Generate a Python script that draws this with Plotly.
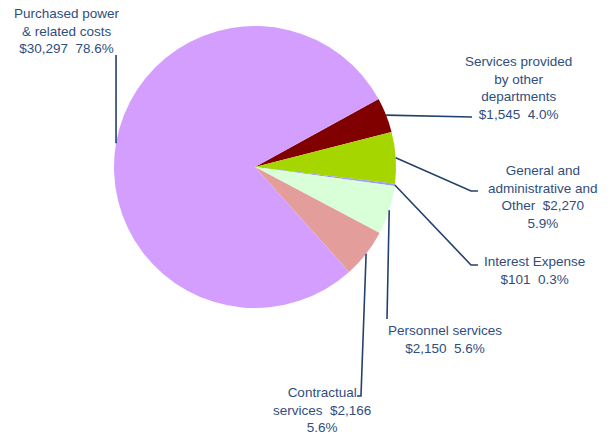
import numpy as np
import plotly.graph_objects as go

W, H = 611, 437

# Cost categories, in the order they are drawn (clockwise)
categories = [
    'Services provided by other departments',
    'General and administrative and Other',
    'Interest Expense',
    'Personnel services',
    'Contractual services',
    'Purchased power & related costs',
]
amounts = [1545, 2270, 101, 2150, 2166, 30297]
percents = [4.0, 5.9, 0.3, 5.6, 5.6, 78.6]
label_text = [
    'Services provided<br>by other<br>departments<br>$1,545  4.0%',
    'General and<br>administrative and<br>Other  $2,270<br>5.9%',
    'Interest Expense<br>$101  0.3%',
    'Personnel services<br>$2,150  5.6%',
    'Contractual<br>services  $2,166<br>5.6%',
    'Purchased power<br>& related costs<br>$30,297  78.6%',
]
slice_colors = ['#800000', '#A6D600', '#9999FF', '#D9FFD9', '#E39E9B', '#D49EFF']

TEXT_COLOR = '#2F4E7E'
LINE_COLOR = '#24406C'
ROTATION = 61.2

# pie geometry in pixels
cx, cy, r = 255, 167, 141

# leader line elbows / ends (pixels) and label centres (pixels)
line_ends = [
    [(472, 117)],
    [(471, 191), (478, 191)],
    [(471, 265), (478, 265)],
    [(387, 319)],
    [(361, 396), (357, 396)],
    [(116, 55)],
]
label_pos = [(518, 88), (543, 197), (534, 270), (445, 339), (322, 410), (67, 31)]


def px(x, y):
    return x / W, 1 - y / H


fig = go.Figure(go.Pie(
    labels=categories,
    values=amounts,
    sort=False,
    direction='clockwise',
    rotation=ROTATION,
    marker=dict(colors=slice_colors, line=dict(width=0)),
    textinfo='none',
    hoverinfo='label+value',
    showlegend=False,
    domain=dict(x=[(cx - r) / W, (cx + r) / W], y=[1 - (cy + r) / H, 1 - (cy - r) / H]),
))

# anchor each leader line at the outer edge of its slice midpoint
total = sum(amounts)
start = ROTATION
shapes = []
for i, v in enumerate(amounts):
    span = 360 * v / total
    mid = np.radians(start + span / 2)
    start += span
    ax = cx + r * np.sin(mid)
    ay = cy - r * np.cos(mid)
    pts = [(ax, ay)] + line_ends[i]
    path = 'M ' + ' L '.join('{:.4f},{:.4f}'.format(*px(x, y)) for x, y in pts)
    shapes.append(dict(type='path', xref='paper', yref='paper', path=path,
                       line=dict(color=LINE_COLOR, width=1.6)))

annotations = []
for txt, (lx, ly) in zip(label_text, label_pos):
    x, y = px(lx, ly)
    annotations.append(dict(
        x=x, y=y, xref='paper', yref='paper', text=txt, showarrow=False,
        xanchor='center', yanchor='middle', align='center',
        font=dict(family='Liberation Sans, Arial, sans-serif', size=13.5, color=TEXT_COLOR),
    ))

fig.update_layout(
    width=W,
    height=H,
    margin=dict(l=0, r=0, t=0, b=0),
    paper_bgcolor='white',
    plot_bgcolor='white',
    shapes=shapes,
    annotations=annotations,
)
fig.write_html('out.html', config={'displayModeBar': False},
               post_script="document.body.style.margin='0';")
